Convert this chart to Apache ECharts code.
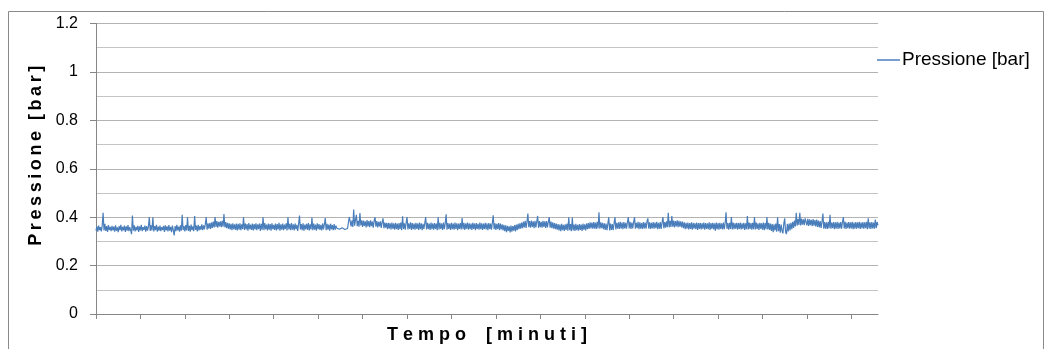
<!DOCTYPE html>
<html>
<head>
<meta charset="utf-8">
<title>Pressione</title>
<script src="https://cdn.jsdelivr.net/npm/echarts@6/dist/echarts.min.js"></script>
<style>
  html, body { margin: 0; padding: 0; background: #ffffff; }
  #chart { width: 1045px; height: 349px; }
</style>
</head>
<body>
<div id="chart"></div>
<script>
// Pressure log, one sample per step, in millibar (converted to bar when plotted)
const pressioneMbar = [
  344, 362, 340, 365, 346, 359, 341, 366, 418, 345, 372, 343, 363, 339, 367, 347, 360, 342, 364, 345,
  361, 340, 366, 344, 358, 338, 363, 346, 368, 341, 360, 345, 365, 339, 362, 344, 367, 342, 359, 346,
  330, 407, 344, 366, 341, 360, 346, 364, 339, 362, 345, 368, 342, 359, 347, 365, 340, 363, 344, 361,
  400, 343, 366, 345, 400, 341, 363, 346, 368, 340, 361, 344, 365, 342, 359, 347, 364, 339, 366, 345,
  362, 341, 367, 344, 360, 338, 365, 346, 325, 363, 342, 368, 345, 361, 340, 366, 344, 410, 347, 363,
  341, 367, 345, 400, 343, 364, 340, 369, 346, 362, 342, 405, 347, 365, 341, 368, 345, 363, 348, 370,
  346, 366, 350, 371, 400, 348, 374, 353, 376, 351, 379, 356, 382, 358, 400, 360, 384, 357, 381, 362,
  383, 359, 385, 361, 413, 358, 380, 355, 377, 352, 374, 349, 372, 346, 375, 350, 370, 347, 373, 345,
  372, 348, 375, 346, 370, 351, 400, 347, 374, 349, 371, 344, 376, 350, 369, 347, 373, 345, 371, 349,
  375, 346, 370, 351, 374, 343, 372, 348, 400, 346, 376, 350, 369, 345, 373, 348, 371, 344, 375, 350,
  368, 347, 374, 345, 371, 349, 377, 344, 370, 348, 373, 346, 369, 351, 375, 345, 400, 349, 372, 346,
  376, 348, 370, 345, 374, 350, 368, 343, 373, 407, 349, 371, 346, 375, 344, 369, 350, 372, 347, 376,
  345, 370, 349, 398, 346, 373, 348, 369, 344, 375, 350, 371, 347, 368, 345, 374, 349, 370, 396, 346,
  372, 348, 369, 344, 373, 350, 367, 346, 371, 348, 365, 354, 349, 355, 350, 353, 348, 356, 351, 354,
  349, 355, 350, 353, 351, 400, 384, 362, 386, 360, 432, 365, 388, 410, 363, 385, 361, 417, 366, 387,
  360, 386, 364, 383, 358, 388, 362, 384, 359, 387, 363, 382, 357, 386, 400, 361, 384, 358, 381, 362,
  383, 356, 379, 395, 354, 378, 357, 376, 350, 377, 353, 375, 349, 378, 352, 374, 348, 377, 351, 373,
  347, 376, 350, 378, 346, 404, 351, 375, 348, 377, 400, 349, 374, 352, 379, 347, 376, 350, 373, 348,
  377, 351, 374, 347, 378, 350, 375, 346, 372, 352, 376, 400, 349, 377, 351, 373, 347, 378, 350, 374,
  348, 376, 352, 373, 346, 400, 349, 377, 351, 374, 347, 378, 350, 375, 412, 348, 376, 352, 373, 347,
  377, 350, 374, 348, 378, 351, 375, 346, 373, 352, 376, 349, 396, 350, 377, 347, 374, 352, 378, 348,
  375, 350, 373, 347, 377, 351, 374, 346, 376, 352, 372, 348, 378, 350, 375, 347, 373, 351, 377, 349,
  374, 346, 376, 351, 373, 348, 377, 408, 350, 375, 347, 372, 351, 376, 346, 373, 349, 370, 345, 368,
  342, 366, 338, 364, 343, 362, 337, 365, 340, 363, 344, 367, 341, 369, 346, 372, 350, 375, 353, 378,
  355, 382, 358, 385, 356, 381, 415, 359, 384, 357, 386, 360, 383, 355, 385, 358, 382, 405, 356, 384,
  359, 381, 357, 385, 360, 383, 356, 384, 358, 380, 400, 357, 382, 355, 379, 353, 376, 350, 373, 348,
  371, 345, 369, 342, 372, 346, 368, 343, 370, 347, 373, 344, 400, 346, 371, 342, 398, 345, 369, 343,
  372, 346, 368, 344, 371, 347, 369, 343, 373, 348, 370, 345, 374, 350, 376, 352, 379, 354, 378, 353,
  380, 353, 378, 351, 381, 354, 420, 352, 379, 355, 377, 350, 375, 347, 373, 346, 372, 400, 345, 374,
  347, 371, 346, 375, 400, 349, 377, 352, 379, 351, 381, 353, 378, 350, 380, 354, 377, 352, 379, 400,
  353, 381, 351, 378, 354, 380, 400, 352, 377, 355, 381, 350, 379, 353, 376, 351, 380, 354, 378, 352,
  381, 395, 353, 379, 351, 377, 354, 380, 352, 378, 355, 381, 350, 377, 353, 380, 351, 378, 400, 354,
  380, 357, 383, 359, 418, 358, 385, 360, 405, 361, 386, 358, 384, 362, 387, 359, 385, 361, 383, 358,
  382, 355, 379, 350, 377, 352, 378, 349, 376, 351, 379, 348, 377, 353, 375, 350, 378, 347, 376, 351,
  377, 349, 375, 352, 378, 348, 376, 351, 374, 350, 379, 347, 376, 352, 377, 349, 375, 344, 378, 350,
  376, 348, 377, 351, 374, 349, 378, 350, 375, 420, 352, 376, 348, 377, 351, 400, 349, 378, 350, 375,
  352, 377, 348, 376, 351, 378, 349, 374, 352, 377, 347, 375, 350, 405, 349, 378, 351, 376, 348, 377,
  350, 400, 349, 378, 351, 374, 347, 377, 352, 375, 348, 378, 346, 376, 350, 400, 349, 377, 347, 374,
  343, 372, 338, 370, 345, 374, 340, 400, 342, 371, 336, 369, 344, 333, 373, 395, 339, 330, 372, 341,
  374, 345, 377, 350, 381, 356, 386, 362, 418, 365, 392, 368, 418, 366, 394, 369, 391, 367, 395, 400,
  366, 393, 364, 391, 367, 389, 363, 392, 365, 388, 362, 390, 360, 386, 358, 384, 356, 381, 415, 352,
  380, 353, 379, 351, 381, 354, 410, 352, 378, 355, 380, 350, 379, 353, 381, 351, 378, 354, 380, 352,
  379, 400, 353, 381, 351, 378, 355, 380, 352, 379, 354, 381, 350, 378, 353, 380, 352, 379, 355, 381,
  351, 378, 354, 380, 352, 379, 355, 381, 350, 395, 353, 379, 351, 380, 354, 378, 352, 390, 355, 380,
  366
];

// Sample index along the time axis (no labels shown on it)
const tempo = pressioneMbar.map((_, i) => String(i));
const pressioneBar = pressioneMbar.map(v => v / 1000);

const seriesName = 'Pressione [bar]';
const xTitle = 'T e m p o    [ m i n u t i ]';
const yTitle = 'P\u2009r\u2009e\u2009s\u2009s\u2009i\u2009o\u2009n\u2009e\u2009\u2009\u2009[\u2009b\u2009a\u2009r\u2009]';

const chart = echarts.init(document.getElementById('chart'), null, { renderer: 'canvas' });

chart.setOption({
  animation: false,
  backgroundColor: '#ffffff',
  textStyle: { fontFamily: 'Liberation Sans' },
  graphic: [{
    type: 'rect',
    left: 6, top: 9,
    shape: { width: 1035, height: 360 },
    style: { fill: 'none', stroke: '#8a8a8a', lineWidth: 1 },
    silent: true
  }],
  grid: { left: 96, right: 167, top: 23.5, bottom: 31, containLabel: false },
  legend: {
    data: [{ name: seriesName, icon: 'rect' }],
    left: 877, top: 50,
    padding: 0,
    itemWidth: 23, itemHeight: 1.5,
    itemGap: 2,
    itemStyle: { color: '#4a7ebb', borderWidth: 0 },
    textStyle: { fontSize: 19, lineHeight: 20, color: '#000000', fontFamily: 'Liberation Sans', padding: [0, 0, 0, -3] }
  },
  xAxis: {
    type: 'category',
    data: tempo,
    boundaryGap: false,
    name: xTitle,
    nameLocation: 'middle',
    nameGap: 12,
    nameTextStyle: { fontSize: 18, fontWeight: 'bold', color: '#000000', fontFamily: 'Liberation Sans', verticalAlign: 'top' },
    axisLine: { show: true, lineStyle: { color: '#868686', width: 1 } },
    axisTick: { show: true, interval: 49, length: 5, inside: false, lineStyle: { color: '#868686' } },
    axisLabel: { show: false },
    splitLine: { show: false }
  },
  yAxis: {
    type: 'value',
    min: 0, max: 1.2, interval: 0.2,
    name: yTitle,
    nameLocation: 'middle',
    nameRotate: 90,
    nameGap: 51,
    nameTextStyle: { fontSize: 18, fontWeight: 'bold', color: '#000000', fontFamily: 'Liberation Sans', padding: [0, 0, 0, 26] },
    axisLine: { show: true, lineStyle: { color: '#868686', width: 1 } },
    axisTick: { show: true, length: 6, inside: false, lineStyle: { color: '#868686' } },
    axisLabel: { fontSize: 16, color: '#000000', margin: 18, fontFamily: 'Liberation Sans' },
    splitLine: { show: true, lineStyle: { color: '#b3b3b3', width: 1 } },
    minorTick: { show: false, splitNumber: 2 },
    minorSplitLine: { show: true, lineStyle: { color: '#c4c4c4', width: 1 } }
  },
  series: [{
    name: seriesName,
    type: 'line',
    data: pressioneBar,
    symbol: 'none',
    sampling: false,
    lineStyle: { color: '#4a7ebb', width: 1.2 },
    itemStyle: { color: '#4a7ebb' }
  }]
});
</script>
</body>
</html>
